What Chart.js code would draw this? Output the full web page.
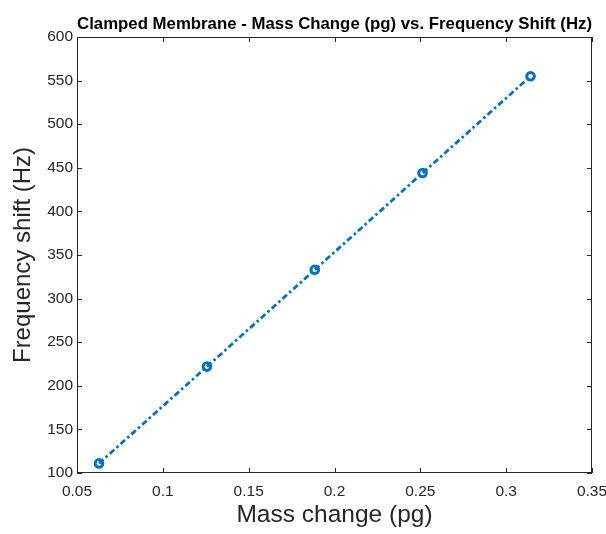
<!DOCTYPE html>
<html>
<head>
<meta charset="utf-8">
<script src="https://cdn.jsdelivr.net/npm/chart.js@4/dist/chart.umd.min.js"></script>
<style>
  body { margin: 0; background: #fff; }
</style>
</head>
<body>
<canvas id="membraneChart" width="606" height="534"></canvas>
<script>
// values
let massChange = [0.0628, 0.1257, 0.1885, 0.2513, 0.3142]   // pg
let freqShift = [111, 222, 333, 444, 555]                    // Hz

let xTicks = [0.05, 0.1, 0.15, 0.2, 0.25, 0.3, 0.35]
let yTicks = [100, 150, 200, 250, 300, 350, 400, 450, 500, 550, 600]

let axisColor = '#262626'
let fontName = '"Liberation Sans", Arial, Helvetica, sans-serif'

let points = massChange.map((m, i) => ({x: m, y: freqShift[i]}))

//matlab style box with ticks pointing inwards
let boxPlugin = {
    id: 'boxPlugin',
    afterDraw(chart) {
        let ctx = chart.ctx
        let area = chart.chartArea
        let xs = chart.scales.x
        let ys = chart.scales.y
        let len = 5
        ctx.save()
        ctx.strokeStyle = axisColor
        ctx.lineWidth = 1
        ctx.strokeRect(area.left + 0.5, area.top + 0.5, area.right - area.left - 1, area.bottom - area.top - 1)
        ctx.beginPath()
        xTicks.forEach(v => {
            let px = Math.round(xs.getPixelForValue(v)) + 0.5
            ctx.moveTo(px, area.bottom)
            ctx.lineTo(px, area.bottom - len)
            ctx.moveTo(px, area.top)
            ctx.lineTo(px, area.top + len)
        })
        yTicks.forEach(v => {
            let py = Math.round(ys.getPixelForValue(v)) + 0.5
            ctx.moveTo(area.left, py)
            ctx.lineTo(area.left + len, py)
            ctx.moveTo(area.right, py)
            ctx.lineTo(area.right - len, py)
        })
        ctx.stroke()
        ctx.restore()
    }
}

let ctx = document.getElementById('membraneChart').getContext('2d')

let membraneChart = new Chart(ctx, {
    type: 'scatter',
    data: {
        datasets: [{
            data: points,
            showLine: true,
            borderColor: '#0072BD',
            borderWidth: 2.8,
            borderDash: [6, 3, 2.5, 3],
            pointStyle: 'circle',
            pointRadius: 3.8,
            pointBorderWidth: 3,
            pointBorderColor: '#0072BD',
            pointBackgroundColor: 'rgba(0,0,0,0)',
            pointHoverRadius: 3.8
        }]
    },
    options: {
        responsive: false,
        animation: false,
        devicePixelRatio: 1,
        layout: {
            padding: {left: 0, right: 14, top: 0, bottom: 0}
        },
        plugins: {
            legend: {display: false},
            tooltip: {enabled: false},
            title: {
                display: true,
                fullSize: false,
                text: 'Clamped Membrane - Mass Change (pg) vs. Frequency Shift (Hz)',
                color: '#000',
                font: {family: fontName, size: 17, weight: 'bold'},
                padding: {top: 14, bottom: 2.6}
            }
        },
        scales: {
            x: {
                type: 'linear',
                min: 0.05,
                max: 0.35,
                afterFit: scale => {
                    scale.height = 61
                    scale.paddingLeft = 0
                    scale.paddingRight = 0
                },
                afterBuildTicks: scale => { scale.ticks = xTicks.map(v => ({value: v})) },
                grid: {display: false, drawTicks: false},
                border: {display: false},
                ticks: {
                    color: axisColor,
                    font: {family: fontName, size: 15.5},
                    padding: 9,
                    maxRotation: 0,
                    callback: v => String(parseFloat(v.toFixed(2)))
                },
                title: {
                    display: true,
                    text: 'Mass change (pg)',
                    color: axisColor,
                    font: {family: fontName, size: 24.5},
                    padding: {top: 4, bottom: 4}
                }
            },
            y: {
                type: 'linear',
                min: 100,
                max: 600,
                afterFit: scale => {
                    scale.width = 77
                    scale.paddingTop = 0
                    scale.paddingBottom = 0
                },
                afterBuildTicks: scale => { scale.ticks = yTicks.map(v => ({value: v})) },
                grid: {display: false, drawTicks: false},
                border: {display: false},
                ticks: {
                    color: axisColor,
                    font: {family: fontName, size: 15.5},
                    padding: 4
                },
                title: {
                    display: true,
                    text: 'Frequency shift (Hz)',
                    color: axisColor,
                    font: {family: fontName, size: 24},
                    padding: {top: 9, bottom: 4}
                }
            }
        }
    },
    plugins: [boxPlugin]
})
</script>
</body>
</html>
